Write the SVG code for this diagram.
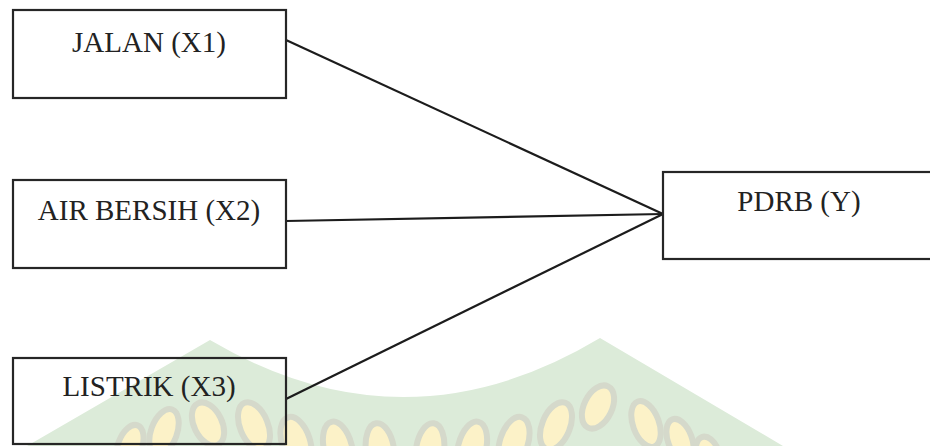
<svg xmlns="http://www.w3.org/2000/svg" width="930" height="446" viewBox="0 0 930 446">
<style>
.box{fill:none;stroke:#262626;stroke-width:2.2}
.lbl{font-family:"Liberation Serif","Times New Roman",serif;font-size:29px;fill:#222;text-anchor:middle}
.con{stroke:#1c1c1c;stroke-width:2.2;fill:none}
.grain{fill:#fcf2c8;stroke:#d5d9cb;stroke-width:6}
</style>
<rect width="930" height="446" fill="#fff"/>
<g id="watermark">
<path d="M27,446 L210,340 Q405,455 600,338 L783,446 Z" fill="#dcebd9"/>
<g>
<ellipse class="grain" cx="430" cy="450" rx="14" ry="27" transform="rotate(8 430 450)"/>
<ellipse class="grain" cx="472" cy="448" rx="14" ry="27" transform="rotate(14 472 448)"/>
<ellipse class="grain" cx="514" cy="442" rx="14" ry="26" transform="rotate(18 514 442)"/>
<ellipse class="grain" cx="556" cy="426" rx="14" ry="25" transform="rotate(22 556 426)"/>
<ellipse class="grain" cx="598" cy="407" rx="14" ry="23" transform="rotate(26 598 407)"/>
<ellipse class="grain" cx="646" cy="424" rx="13" ry="24" transform="rotate(-20 646 424)"/>
<ellipse class="grain" cx="680" cy="440" rx="12" ry="22" transform="rotate(-20 680 440)"/>
<ellipse class="grain" cx="708" cy="454" rx="11" ry="18" transform="rotate(-20 708 454)"/>
<ellipse class="grain" cx="380" cy="450" rx="14" ry="27" transform="rotate(-8 380 450)"/>
<ellipse class="grain" cx="338" cy="448" rx="14" ry="27" transform="rotate(-14 338 448)"/>
<ellipse class="grain" cx="296" cy="442" rx="14" ry="26" transform="rotate(-18 296 442)"/>
<ellipse class="grain" cx="254" cy="426" rx="14" ry="25" transform="rotate(-22 254 426)"/>
<ellipse class="grain" cx="208" cy="424" rx="14" ry="23" transform="rotate(-26 208 424)"/>
<ellipse class="grain" cx="164" cy="432" rx="13" ry="24" transform="rotate(20 164 432)"/>
<ellipse class="grain" cx="130" cy="446" rx="12" ry="22" transform="rotate(20 130 446)"/>
</g>
</g>
<g id="connectors">
<line class="con" x1="286" y1="40" x2="663" y2="214"/>
<line class="con" x1="286" y1="221" x2="663" y2="214"/>
<line class="con" x1="286" y1="399" x2="663" y2="214"/>
</g>
<g id="node-x1">
<rect class="box" x="13" y="10" width="273" height="88"/>
<text class="lbl" x="149" y="52">JALAN (X1)</text>
</g>
<g id="node-x2">
<rect class="box" x="13" y="180" width="273" height="88"/>
<text class="lbl" x="149" y="220">AIR BERSIH (X2)</text>
</g>
<g id="node-x3">
<rect class="box" x="13" y="358" width="273" height="86"/>
<text class="lbl" x="149" y="396">LISTRIK (X3)</text>
</g>
<g id="node-y">
<rect class="box" x="663" y="172" width="275" height="87"/>
<text class="lbl" x="799" y="211">PDRB (Y)</text>
</g>
</svg>
